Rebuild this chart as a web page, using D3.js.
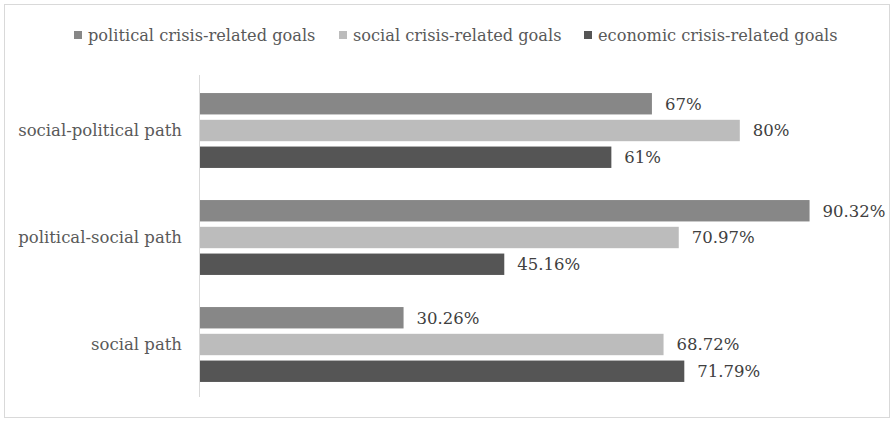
<!DOCTYPE html>
<html lang="en">
<head>
    <meta charset="UTF-8">
    <title>Crisis-related goals by path</title>
    <style>
        body { margin: 0; background: #fff; }
        svg { display: block; font-family: "DejaVu Serif", serif; }
    </style>
</head>
<body>
    <div id="graphic"></div>

    <script src="https://cdn.jsdelivr.net/npm/d3@7"></script>
    <script>
        var paths = ['social-political path', 'political-social path', 'social path'];
        var seriesNames = ['political crisis-related goals', 'social crisis-related goals', 'economic crisis-related goals'];
        var politicalVals = [67, 90.32, 30.26];
        var socialVals = [80, 70.97, 68.72];
        var economicVals = [61, 45.16, 71.79];
        var valueLabels = [
            ['67%', '90.32%', '30.26%'],
            ['80%', '70.97%', '68.72%'],
            ['61%', '45.16%', '71.79%']
        ];
        var colors = ['#878787', '#bcbcbc', '#555555'];

        var width = 894;
        var height = 423;

        var series = [politicalVals, socialVals, economicVals];

        var svg = d3.select('#graphic')
            .append('svg')
            .attr('width', width)
            .attr('height', height);

        // chart border
        svg.append('rect')
            .attr('x', 4.5).attr('y', 4.5)
            .attr('width', 885).attr('height', 413)
            .attr('fill', '#fff')
            .attr('stroke', '#d9d9d9');

        var x = d3.scaleLinear().domain([0, 100]).range([199, 875]);
        var y = d3.scaleBand().domain(paths).range([77, 398]).paddingInner(0.3).paddingOuter(0.15);
        var ySub = d3.scaleBand().domain(d3.range(series.length)).range([0, y.bandwidth()]).paddingInner(0.2);

        // category labels
        svg.append('g').selectAll('text')
            .data(paths)
            .join('text')
            .attr('x', 182)
            .attr('y', function(d) { return y(d) + y.bandwidth() / 2; })
            .attr('dy', '0.35em')
            .attr('text-anchor', 'end')
            .attr('font-size', 16.5)
            .attr('fill', '#595959')
            .text(function(d) { return d; });

        // bars
        series.forEach(function(vals, s) {
            var g = svg.append('g');
            g.selectAll('rect')
                .data(vals)
                .join('rect')
                .attr('x', x(0))
                .attr('y', function(d, i) { return y(paths[i]) + ySub(s); })
                .attr('width', function(d) { return x(d) - x(0); })
                .attr('height', ySub.bandwidth())
                .attr('fill', colors[s]);
            g.selectAll('text')
                .data(vals)
                .join('text')
                .attr('x', function(d) { return x(d) + 13; })
                .attr('y', function(d, i) { return y(paths[i]) + ySub(s) + ySub.bandwidth() / 2; })
                .attr('dy', '0.35em')
                .attr('font-size', 16.5)
                .attr('fill', '#404040')
                .text(function(d, i) { return valueLabels[s][i]; });
        });

        // vertical axis line
        svg.append('line')
            .attr('x1', x(0) + 0.5).attr('x2', x(0) + 0.5)
            .attr('y1', 75).attr('y2', 397)
            .attr('stroke', '#d9d9d9');

        // legend
        var legendX = [74, 339, 584];
        var legend = svg.append('g').selectAll('g')
            .data(seriesNames)
            .join('g')
            .attr('transform', function(d, i) { return 'translate(' + legendX[i] + ',35)'; });
        legend.append('rect')
            .attr('x', 0).attr('y', -4)
            .attr('width', 8).attr('height', 8)
            .attr('fill', function(d, i) { return colors[i]; });
        legend.append('text')
            .attr('x', 14)
            .attr('dy', '0.35em')
            .attr('font-size', 16.2)
            .attr('fill', '#595959')
            .text(function(d) { return d; });
    </script>
</body>
</html>
